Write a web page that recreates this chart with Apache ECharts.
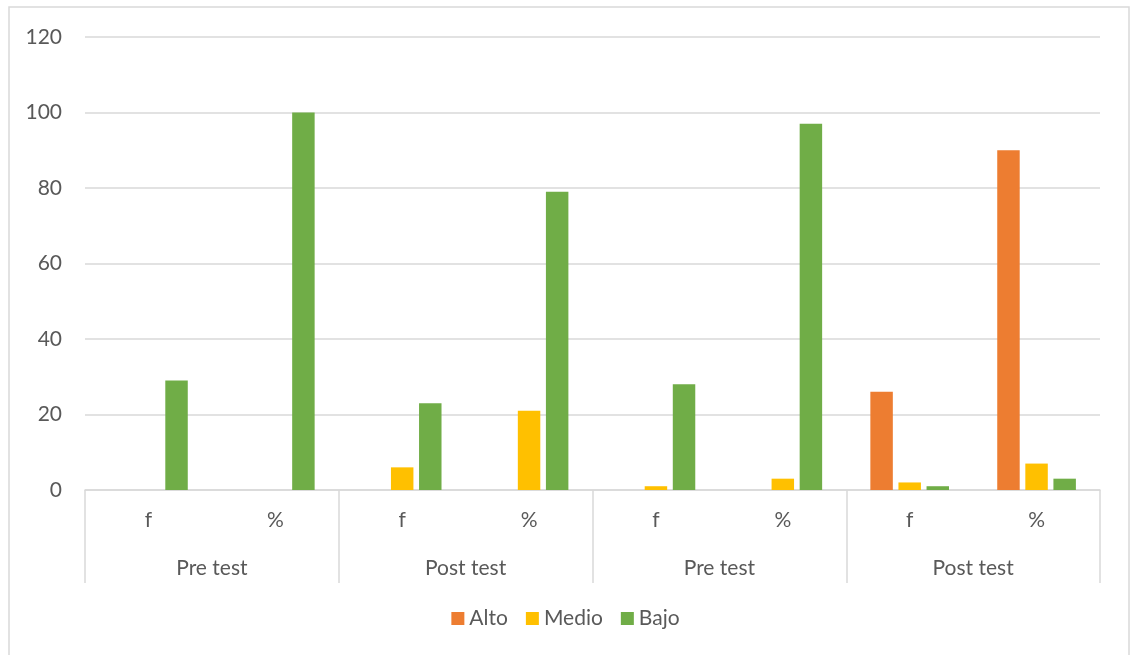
<!DOCTYPE html>
<html>
<head>
<meta charset="utf-8">
<script src="https://cdn.jsdelivr.net/npm/echarts@6/dist/echarts.min.js"></script>
<style>
html,body{margin:0;padding:0;background:#fff;}
#chart{width:1131px;height:655px;}
</style>
</head>
<body>
<div id="chart"></div>
<script>
const subCategories = ['f', '%', 'f', '%', 'f', '%', 'f', '%'];
const groupCategories = ['Pre test', 'Post test', 'Pre test', 'Post test'];
const seriesNames = ['Alto', 'Medio', 'Bajo'];
const alto  = [0, 0, 0, 0, 0, 0, 26, 90];
const medio = [0, 0, 6, 21, 1, 3, 2, 7];
const bajo  = [29, 100, 23, 79, 28, 97, 1, 3];
const yTicks = {min: 0, max: 120, interval: 20};
const colors = ['#ED7D31', '#FFC000', '#70AD47'];

const fontFamily = 'Lato, "Open Sans", sans-serif';
const textColor = '#595959';
const gridColor = '#d9d9d9';

const chart = echarts.init(document.getElementById('chart'));
const values = [alto, medio, bajo];
chart.setOption({
  animation: false,
  textStyle: {fontFamily: fontFamily},
  graphic: [{
    type: 'rect',
    shape: {x: 9, y: 7, width: 1120, height: 670},
    style: {fill: 'none', stroke: gridColor, lineWidth: 1.5},
    silent: true
  }],
  grid: {left: 85, right: 31, top: 37, bottom: 165},
  legend: {
    data: seriesNames,
    bottom: 21,
    left: 'center',
    icon: 'rect',
    itemWidth: 13,
    itemHeight: 13,
    itemGap: 18,
    textStyle: {color: textColor, fontSize: 21, fontFamily: fontFamily}
  },
  xAxis: [{
    type: 'category',
    data: subCategories,
    position: 'bottom',
    axisLine: {lineStyle: {color: gridColor, width: 1.5}},
    axisTick: {show: false},
    axisLabel: {color: textColor, fontSize: 21, margin: 20, fontFamily: fontFamily}
  }, {
    type: 'category',
    data: groupCategories,
    position: 'bottom',
    axisLine: {show: false},
    axisTick: {show: true, length: 93, lineStyle: {color: gridColor, width: 1.5}},
    axisLabel: {color: textColor, fontSize: 21, margin: 68, fontFamily: fontFamily}
  }],
  yAxis: {
    type: 'value',
    min: yTicks.min,
    max: yTicks.max,
    interval: yTicks.interval,
    axisLine: {show: false},
    axisTick: {show: false},
    splitLine: {lineStyle: {color: gridColor, width: 1.5}},
    axisLabel: {color: textColor, fontSize: 21, margin: 23, fontFamily: fontFamily}
  },
  series: seriesNames.map((name, i) => ({
    name: name,
    type: 'bar',
    xAxisIndex: 0,
    data: values[i],
    itemStyle: {color: colors[i]},
    barGap: '25%',
    barCategoryGap: '38%'
  }))
});
</script>
</body>
</html>
